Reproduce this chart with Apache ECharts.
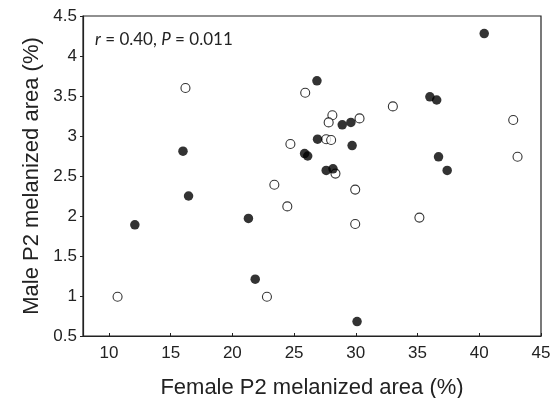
<!DOCTYPE html>
<html>
<head>
<meta charset="utf-8">
<script src="https://cdn.jsdelivr.net/npm/echarts@6/dist/echarts.min.js"></script>
<style>html,body{margin:0;padding:0;background:#fff;}#c{width:554px;height:398px;}</style>
</head>
<body>
<div id="c"></div>
<script>
const filledX = [40.4, 26.85, 36.0, 36.55, 28.9, 29.6, 26.9, 29.7, 25.85, 26.1, 36.7, 27.6, 28.15, 37.4, 16.0, 16.45, 12.1, 21.3, 21.85, 30.1];
const filledY = [4.28, 3.69, 3.49, 3.45, 3.14, 3.17, 2.96, 2.88, 2.78, 2.75, 2.74, 2.57, 2.59, 2.57, 2.81, 2.25, 1.89, 1.97, 1.21, 0.68];
const openX = [16.2, 23.4, 25.9, 33.0, 28.1, 27.8, 30.3, 42.75, 27.6, 28.0, 24.7, 43.1, 28.35, 29.95, 24.45, 29.95, 35.15, 10.7, 22.8];
const openY = [3.6, 2.39, 3.54, 3.37, 3.26, 3.17, 3.22, 3.2, 2.96, 2.95, 2.90, 2.74, 2.53, 2.33, 2.12, 1.90, 1.98, 0.99, 0.99];
const xTicks = [10, 15, 20, 25, 30, 35, 40, 45];
const xLabel = 'Female P2 melanized area (%)';
const yLabel = 'Male P2 melanized area (%)';
const annotation = ['r', ' = 0.40, ', 'P', ' = 0.011'];

const chart = echarts.init(document.getElementById('c'), null, {renderer: 'canvas'});
const font = 'Liberation Sans, Arial, sans-serif';
chart.setOption({
  animation: false,
  grid: {left: 83, right: 13, top: 16, bottom: 62, show: true, borderColor: '#222', borderWidth: 1.2, outerBoundsMode: 'none', containLabel: false},
  xAxis: {
    type: 'value', min: 7.9, max: 45,
    name: xLabel, nameLocation: 'middle', nameGap: 41,
    nameTextStyle: {fontFamily: font, fontSize: 22, color: '#222'},
    axisLine: {show: true, onZero: false, lineStyle: {color: '#222', width: 1.2}},
    axisTick: {show: true, inside: true, length: 3, customValues: xTicks, lineStyle: {color: '#222'}},
    axisLabel: {customValues: xTicks, fontFamily: font, fontSize: 17, color: '#222', margin: 9},
    splitLine: {show: false}
  },
  yAxis: {
    type: 'value', min: 0.5, max: 4.5, interval: 0.5,
    name: yLabel, nameLocation: 'middle', nameGap: 39,
    nameTextStyle: {fontFamily: font, fontSize: 22, color: '#222'},
    axisLine: {show: true, onZero: false, lineStyle: {color: '#222', width: 1.2}},
    axisTick: {show: true, inside: false, length: 3, lineStyle: {color: '#222'}},
    axisLabel: {fontFamily: font, fontSize: 17, color: '#222', margin: 6},
    splitLine: {show: false}
  },
  graphic: [{
    type: 'text', left: 95, top: 31,
    style: {
      text: '{i|' + annotation[0] + '}{n|' + annotation[1] + '}{i|' + annotation[2] + '}{n|' + annotation[3] + '}',
      rich: {
        i: {fontFamily: 'Lato, sans-serif', fontStyle: 'italic', fontSize: 17, fill: '#222'},
        n: {fontFamily: 'Lato, sans-serif', fontSize: 17, fill: '#222'}
      }
    }
  }],
  series: [
    {
      type: 'scatter', symbol: 'circle', symbolSize: 9,
      data: openX.map((x, i) => [x, openY[i]]),
      itemStyle: {color: '#fff', borderColor: '#000', borderWidth: 1.1}
    },
    {
      type: 'scatter', symbol: 'circle', symbolSize: 9.5,
      data: filledX.map((x, i) => [x, filledY[i]]),
      itemStyle: {color: '#000', borderColor: '#000', borderWidth: 0}
    }
  ]
});
</script>
</body>
</html>
